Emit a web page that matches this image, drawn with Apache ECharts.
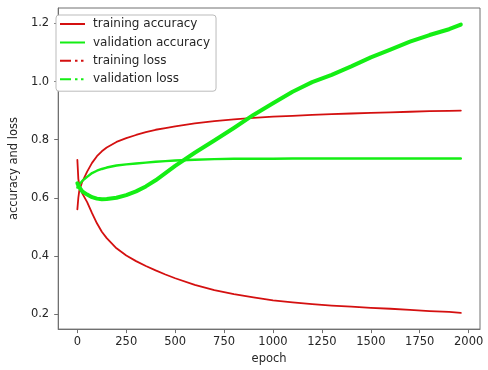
<!DOCTYPE html>
<html><head><meta charset="utf-8">
<script src="https://cdn.jsdelivr.net/npm/echarts@6/dist/echarts.min.js"></script>
<style>html,body{margin:0;padding:0;background:#fff}#c{width:488px;height:370px}</style>
</head><body><div id="c"></div>
<script>
const epochs    = [0, 5, 10, 25, 50, 75, 100, 125, 150, 200, 250, 300, 350, 400, 450, 500, 600, 700, 800, 900, 1000, 1100, 1200, 1300, 1400, 1500, 1600, 1700, 1800, 1900, 1960];
const trainAcc  = [0.56, 0.60, 0.625, 0.655, 0.69, 0.72, 0.743, 0.76, 0.773, 0.792, 0.805, 0.816, 0.826, 0.834, 0.840, 0.846, 0.856, 0.864, 0.870, 0.875, 0.879, 0.882, 0.885, 0.888, 0.890, 0.892, 0.894, 0.896, 0.898, 0.899, 0.900];
const valAcc    = [0.635, 0.642, 0.648, 0.658, 0.672, 0.685, 0.693, 0.699, 0.704, 0.711, 0.715, 0.718, 0.721, 0.724, 0.726, 0.728, 0.731, 0.733, 0.734, 0.734, 0.734, 0.735, 0.735, 0.735, 0.735, 0.735, 0.735, 0.735, 0.735, 0.735, 0.735];
const trainLoss = [0.73, 0.665, 0.64, 0.615, 0.585, 0.547, 0.512, 0.483, 0.461, 0.426, 0.401, 0.382, 0.365, 0.35, 0.336, 0.323, 0.300, 0.282, 0.268, 0.257, 0.247, 0.240, 0.234, 0.229, 0.225, 0.221, 0.218, 0.214, 0.210, 0.207, 0.204];
const valLoss   = [0.65, 0.643, 0.636, 0.622, 0.611, 0.602, 0.597, 0.595, 0.596, 0.600, 0.609, 0.622, 0.639, 0.66, 0.685, 0.71, 0.755, 0.797, 0.84, 0.885, 0.925, 0.965, 0.998, 1.023, 1.052, 1.083, 1.11, 1.137, 1.16, 1.18, 1.196];
const xTicks = [0, 250, 500, 750, 1000, 1250, 1500, 1750, 2000];
const yTicks = [0.2, 0.4, 0.6, 0.8, 1.0, 1.2];
const seriesNames = ['training accuracy', 'validation accuracy', 'training loss', 'validation loss'];

const RED = '#d41010', GREEN = '#14ee14';
const FONT = 'DejaVu Sans';
const solidIcon = 'path://M0,0H25V2H0Z M28,0L28,2';
const dashDotIcon = 'path://M0,0H11V2H0Z M15,0H17.5V2H15Z M21,0H23.5V2H21Z M28,0L28,2';

function pairs(ys) { return epochs.map((e, i) => [e, ys[i]]); }
function lineSeries(name, ys, color, width) {
  return {name: name, type: 'line', data: pairs(ys), color: color, showSymbol: false, symbol: 'none',
          smooth: false, lineStyle: {color: color, width: width, join: 'round', cap: 'round'}};
}

const chart = echarts.init(document.getElementById('c'), null, {renderer: 'canvas'});
chart.setOption({
  animation: false,
  backgroundColor: '#fff',
  grid: {left: 50, right: 8, top: 8, bottom: 40, show: true, borderColor: '#707070', borderWidth: 1, backgroundColor: 'transparent'},
  xAxis: {
    type: 'value', min: -98, max: 2058,
    name: 'epoch', nameLocation: 'middle', nameGap: 23,
    nameTextStyle: {fontFamily: FONT, fontSize: 11.5, color: '#262626'},
    axisLine: {show: true, onZero: false, lineStyle: {color: '#707070', width: 1}},
    axisTick: {show: true, inside: false, length: 4, customValues: xTicks, lineStyle: {color: '#707070'}},
    axisLabel: {customValues: xTicks, margin: 7, fontFamily: FONT, fontSize: 11.5, color: '#262626', formatter: v => String(Math.round(v))},
    splitLine: {show: false}
  },
  yAxis: {
    type: 'value', min: 0.148, max: 1.253,
    name: 'accuracy and loss', nameLocation: 'middle', nameGap: 38, nameRotate: 90,
    nameTextStyle: {fontFamily: FONT, fontSize: 11.5, color: '#262626'},
    axisLine: {show: true, onZero: false, lineStyle: {color: '#707070', width: 1}},
    axisTick: {show: true, inside: false, length: 4, customValues: yTicks, lineStyle: {color: '#707070'}},
    axisLabel: {customValues: yTicks, margin: 9, fontFamily: FONT, fontSize: 11.5, color: '#262626', formatter: v => v.toFixed(1)},
    splitLine: {show: false}
  },
  legend: {
    orient: 'vertical', left: 56, top: 15,
    padding: [2, 6, 5, 4], itemGap: 4.4, itemWidth: 28, itemHeight: 14,
    backgroundColor: '#fff', borderColor: '#bbbbbb', borderWidth: 1, borderRadius: 3,
    textStyle: {fontFamily: FONT, fontSize: 12, color: '#262626', lineHeight: 14},
    itemStyle: {borderWidth: 0},
    data: [
      {name: seriesNames[0], icon: solidIcon},
      {name: seriesNames[1], icon: solidIcon},
      {name: seriesNames[2], icon: dashDotIcon},
      {name: seriesNames[3], icon: dashDotIcon}
    ]
  },
  series: [
    lineSeries(seriesNames[0], trainAcc, RED, 1.8),
    lineSeries(seriesNames[1], valAcc, GREEN, 2.4),
    lineSeries(seriesNames[2], trainLoss, RED, 1.8),
    lineSeries(seriesNames[3], valLoss, GREEN, 4)
  ]
});
</script>
</body></html>
